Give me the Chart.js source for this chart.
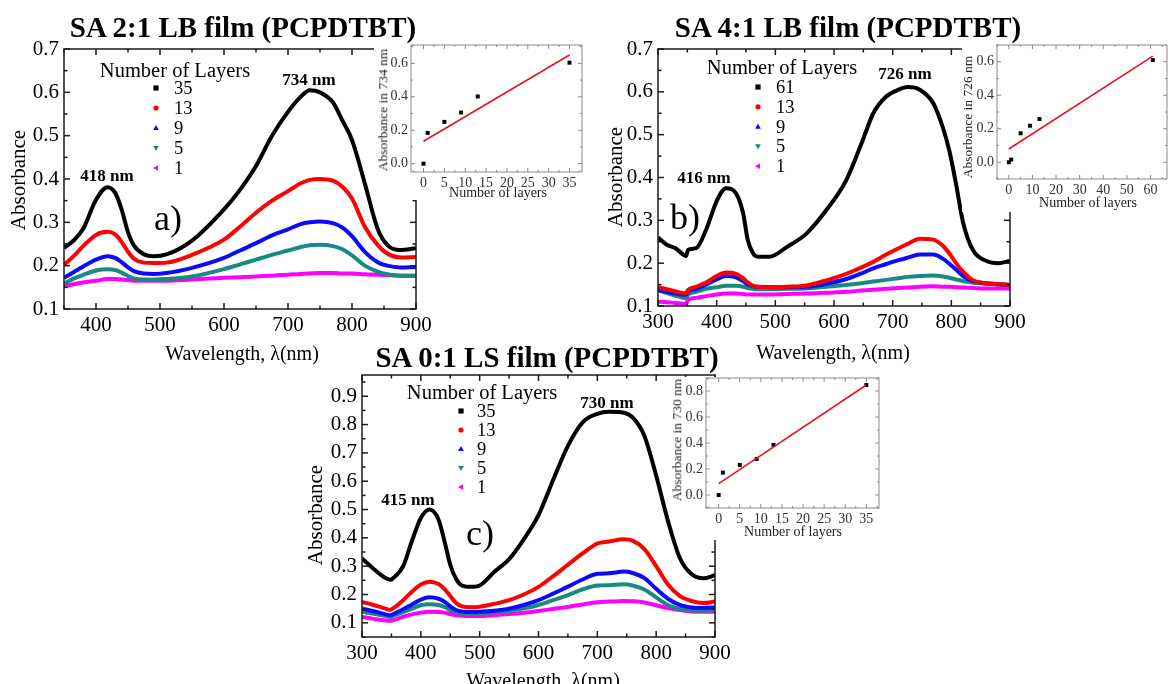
<!DOCTYPE html>
<html><head><meta charset="utf-8">
<script src="https://cdn.jsdelivr.net/npm/chart.js@4.4.0/dist/chart.umd.min.js"></script>
<style>
html,body{margin:0;padding:0;background:#fff;width:1171px;height:684px;overflow:hidden;}
#stage{position:relative;width:1171px;height:684px;overflow:hidden;}
canvas{position:absolute;left:0;top:0;}
.t{position:absolute;white-space:nowrap;font-family:"Liberation Serif","Times New Roman",serif;color:#000;transform:translate(-50%,-50%);line-height:1;z-index:10;}
.l{position:absolute;white-space:nowrap;font-family:"Liberation Serif","Times New Roman",serif;color:#000;transform:translate(0,-50%);line-height:1;z-index:10;}
</style></head><body><div id="stage"></div>
<script>
const W = 1171, H = 684;

// ---------- Panel a: SA 2:1 LB film ----------
const wlA = [350,365,380,400,418,430,440,450,460,475,490,510,550,600,625,650,675,700,720,734,750,770,785,800,820,840,855,875,900];
const a35 = [0.241,0.258,0.285,0.352,0.381,0.368,0.330,0.277,0.245,0.226,0.222,0.226,0.258,0.330,0.375,0.430,0.500,0.555,0.590,0.605,0.600,0.577,0.535,0.490,0.390,0.285,0.248,0.236,0.240];
const a13 = [0.202,0.222,0.245,0.271,0.278,0.272,0.255,0.232,0.215,0.207,0.206,0.207,0.225,0.260,0.290,0.322,0.350,0.372,0.390,0.398,0.400,0.396,0.382,0.355,0.290,0.248,0.228,0.219,0.220];
const a9  = [0.172,0.185,0.198,0.214,0.222,0.218,0.208,0.196,0.187,0.182,0.181,0.183,0.195,0.218,0.235,0.252,0.270,0.284,0.296,0.300,0.302,0.298,0.288,0.268,0.232,0.208,0.200,0.196,0.197];
const a5  = [0.158,0.170,0.179,0.189,0.192,0.190,0.184,0.176,0.170,0.168,0.168,0.169,0.175,0.192,0.203,0.214,0.225,0.235,0.243,0.247,0.248,0.245,0.238,0.224,0.200,0.186,0.180,0.177,0.177];
const a1  = [0.152,0.157,0.161,0.165,0.169,0.169,0.168,0.167,0.165,0.165,0.165,0.165,0.168,0.172,0.173,0.175,0.177,0.179,0.181,0.182,0.183,0.183,0.182,0.182,0.180,0.179,0.178,0.177,0.177];
const layerLabelsA = ['35','13','9','5','1'];

// ---------- Panel b: SA 4:1 LB film ----------
const wlB = [300,315,330,348,351,365,382,400,416,433,445,453,462,470,490,520,553,587,621,647,667,689,710,726,746,769,786,797,808,820,837,860,880,900];
const b61 = [0.260,0.243,0.235,0.217,0.231,0.235,0.278,0.345,0.375,0.363,0.317,0.254,0.223,0.215,0.215,0.238,0.269,0.324,0.394,0.480,0.550,0.589,0.605,0.611,0.605,0.574,0.515,0.460,0.385,0.295,0.230,0.205,0.200,0.205];
const b13 = [0.144,0.139,0.134,0.129,0.137,0.145,0.155,0.170,0.178,0.175,0.165,0.155,0.147,0.145,0.144,0.145,0.148,0.160,0.175,0.190,0.203,0.220,0.235,0.245,0.257,0.255,0.240,0.222,0.200,0.180,0.160,0.153,0.151,0.149];
const b9  = [0.137,0.133,0.129,0.126,0.133,0.140,0.150,0.162,0.170,0.167,0.158,0.150,0.146,0.145,0.144,0.144,0.145,0.152,0.163,0.176,0.188,0.198,0.207,0.213,0.220,0.220,0.210,0.198,0.185,0.170,0.158,0.153,0.151,0.149];
const b5  = [0.137,0.130,0.124,0.118,0.126,0.133,0.140,0.144,0.147,0.147,0.145,0.142,0.140,0.139,0.139,0.140,0.141,0.145,0.149,0.153,0.157,0.161,0.165,0.168,0.170,0.171,0.169,0.166,0.162,0.158,0.154,0.152,0.150,0.149];
const b1  = [0.110,0.109,0.107,0.105,0.114,0.119,0.123,0.127,0.129,0.129,0.128,0.127,0.127,0.127,0.127,0.128,0.129,0.131,0.133,0.136,0.138,0.140,0.142,0.143,0.145,0.146,0.145,0.145,0.144,0.143,0.142,0.141,0.141,0.141];
const layerLabelsB = ['61','13','9','5','1'];

// ---------- Panel c: SA 0:1 LS film ----------
const wlC = [300,320,340,348,352,370,385,400,415,430,440,450,460,470,485,500,525,550,575,600,625,650,675,700,720,745,760,780,800,820,840,860,880,900];
const c35 = [0.327,0.290,0.258,0.252,0.256,0.300,0.390,0.470,0.500,0.465,0.390,0.305,0.255,0.232,0.227,0.232,0.280,0.325,0.395,0.480,0.605,0.725,0.808,0.838,0.845,0.842,0.825,0.760,0.620,0.460,0.330,0.272,0.257,0.268];
const c13 = [0.174,0.163,0.150,0.146,0.150,0.180,0.210,0.235,0.245,0.237,0.220,0.195,0.170,0.158,0.155,0.157,0.167,0.180,0.200,0.227,0.265,0.305,0.345,0.380,0.387,0.395,0.390,0.360,0.300,0.235,0.195,0.177,0.170,0.175];
const c9  = [0.150,0.141,0.130,0.127,0.130,0.148,0.165,0.182,0.190,0.185,0.175,0.158,0.145,0.140,0.138,0.139,0.143,0.150,0.163,0.180,0.203,0.228,0.253,0.273,0.275,0.281,0.276,0.258,0.220,0.185,0.163,0.154,0.152,0.155];
const c5  = [0.139,0.132,0.124,0.121,0.124,0.138,0.150,0.162,0.166,0.163,0.156,0.145,0.137,0.134,0.133,0.134,0.137,0.142,0.151,0.163,0.180,0.198,0.218,0.232,0.233,0.236,0.232,0.218,0.190,0.163,0.150,0.144,0.143,0.145];
const c1  = [0.121,0.114,0.108,0.107,0.109,0.121,0.130,0.136,0.139,0.138,0.136,0.131,0.127,0.125,0.124,0.124,0.127,0.131,0.136,0.142,0.149,0.156,0.165,0.173,0.175,0.177,0.176,0.172,0.162,0.152,0.145,0.140,0.139,0.139];
const layerLabelsC = ['35','13','9','5','1'];

// ---------- Insets: absorbance at peak vs number of layers ----------
const layersA = [0,1,5,9,13,35];
const peakA   = [0.0,0.184,0.250,0.306,0.402,0.604];
const fitXA = [0,35], fitYA = [0.134,0.650];
const layersB = [0,1,5,9,13,61];
const peakB   = [0.0,0.016,0.173,0.218,0.258,0.610];
const fitXB = [0,61], fitYB = [0.079,0.634];
const layersC = [0,1,5,9,13,35];
const peakC   = [0.0,0.172,0.231,0.277,0.385,0.846];
const fitXC = [0,35], fitYC = [0.088,0.846];

// ---------- Tick values ----------
const mainXTicksA = [400,500,600,700,800,900];
const mainXTicksBC = [300,400,500,600,700,800,900];
const mainYTicksAB = [0.1,0.2,0.3,0.4,0.5,0.6,0.7];
const mainYTicksC = [0.1,0.2,0.3,0.4,0.5,0.6,0.7,0.8,0.9];
const insetXTicksAC = [0,5,10,15,20,25,30,35];
const insetXTicksB = [0,10,20,30,40,50,60];
const insetYTicksAB = [0.0,0.2,0.4,0.6];
const insetYTicksC = [0.0,0.2,0.4,0.6,0.8];

const seriesStyle = [
  {color:'#000000', shape:'square'},
  {color:'#ff0000', shape:'circle'},
  {color:'#0a0aff', shape:'up'},
  {color:'#178a82', shape:'down'},
  {color:'#ff00ff', shape:'left'}
];

const stage = document.getElementById('stage');
function mkCanvas(){ const c=document.createElement('canvas'); c.width=W; c.height=H; c.style.width=W+'px'; c.style.height=H+'px'; stage.appendChild(c); return c; }
function txt(s, x, y, size, opts={}){
  const d=document.createElement('div'); d.className=opts.left?'l':'t'; d.textContent=s;
  d.style.left=x+'px'; d.style.top=y+'px'; d.style.fontSize=size+'px';
  if(opts.bold) d.style.fontWeight='bold';
  if(opts.color) d.style.color=opts.color;
  if(opts.rot) d.style.transform='translate(-50%,-50%) rotate(-90deg)';
  stage.appendChild(d); return d;
}

function drawMark(ctx, shape, color, x, y, r){
  ctx.save(); ctx.fillStyle=color; ctx.beginPath();
  if(shape==='square'){ ctx.rect(x-r,y-r,2*r,2*r); }
  else if(shape==='circle'){ ctx.arc(x,y,r,0,Math.PI*2); }
  else if(shape==='up'){ ctx.moveTo(x,y-r*1.2); ctx.lineTo(x+r*1.1,y+r*0.8); ctx.lineTo(x-r*1.1,y+r*0.8); ctx.closePath(); }
  else if(shape==='down'){ ctx.moveTo(x,y+r*1.2); ctx.lineTo(x+r*1.1,y-r*0.8); ctx.lineTo(x-r*1.1,y-r*0.8); ctx.closePath(); }
  else if(shape==='left'){ ctx.moveTo(x-r*1.2,y); ctx.lineTo(x+r*0.8,y-r*1.1); ctx.lineTo(x+r*0.8,y+r*1.1); ctx.closePath(); }
  ctx.fill(); ctx.restore();
}

const boxPlugin = {id:'box', beforeDraw(chart,args,o){ if(!o || !o.rect) return; const c=chart.ctx; c.save(); c.fillStyle='#ffffff'; c.fillRect(o.rect[0],o.rect[1],o.rect[2],o.rect[3]); c.restore(); }};
const framePlugin = {id:'frame', afterDraw(chart,args,o){
  const {ctx, chartArea:a} = chart; const x=chart.scales.x, y=chart.scales.y;
  ctx.save(); ctx.strokeStyle=o.color; ctx.lineWidth=o.width;
  ctx.strokeRect(a.left,a.top,a.right-a.left,a.bottom-a.top);
  const seg=(x1,y1,x2,y2)=>{ctx.beginPath();ctx.moveTo(x1,y1);ctx.lineTo(x2,y2);ctx.stroke();};
  const n0x=Math.ceil(x.min/o.xMinor-1e-9), n1x=Math.floor(x.max/o.xMinor+1e-9);
  for(let i=n0x;i<=n1x;i++){ const v=i*o.xMinor; const p=x.getPixelForValue(v);
    const r=v/o.xMajor; const major=Math.abs(r-Math.round(r))<1e-6; const L=major?o.major:o.minor;
    seg(p,a.bottom,p,a.bottom-L); seg(p,a.top,p,a.top+L); }
  const n0y=Math.ceil(y.min/o.yMinor-1e-9), n1y=Math.floor(y.max/o.yMinor+1e-9);
  for(let i=n0y;i<=n1y;i++){ const v=i*o.yMinor; const p=y.getPixelForValue(v);
    const r=v/o.yMajor; const major=Math.abs(r-Math.round(r))<1e-6; const L=major?o.major:o.minor;
    seg(a.left,p,a.left+L,p); seg(a.right,p,a.right-L,p); }
  ctx.restore();
}};
const markPlugin = {id:'marks', afterDraw(chart,args,o){ if(!o || !o.x) return;
  chart.data.datasets.forEach((ds,i)=>drawMark(chart.ctx, ds.markShape, ds.borderColor, o.x, o.y+i*o.dy, o.r)); }};

function fixedTicks(arr){ return s=>{ s.ticks = arr.map(v=>({value:v})); }; }

function mainChart(p){
  const YW=60, XH=40;
  const datasets = p.series.map((s,i)=>({
    label:p.labels[i], data:p.wl.map((w,j)=>({x:w,y:s[j]})),
    borderColor:seriesStyle[i].color, backgroundColor:seriesStyle[i].color, borderWidth:4,
    pointRadius:0, cubicInterpolationMode:'monotone', fill:false, markShape:seriesStyle[i].shape
  }));
  const font={family:'"Liberation Serif","Times New Roman",serif', size:21};
  new Chart(mkCanvas(), {type:'line', data:{datasets},
    options:{responsive:false, animation:false, devicePixelRatio:1,
      layout:{padding:{left:p.area.l-YW, right:W-p.area.r, top:p.area.t, bottom:H-p.area.b-XH}},
      plugins:{legend:{display:false}, tooltip:{enabled:false},
        frame:{color:'#1a1a1a', width:1.5, major:6, minor:3.5, xMajor:100, xMinor:50, yMajor:0.1, yMinor:0.05},
        marks:p.marks},
      scales:{
        x:{type:'linear', min:p.xr[0], max:p.xr[1], afterBuildTicks:fixedTicks(p.xt),
           ticks:{font, color:'#000', padding:4, maxRotation:0, autoSkip:false, callback:v=>String(v)},
           grid:{display:false, drawTicks:false}, border:{display:false}, afterFit:s=>{s.height=XH;}},
        y:{type:'linear', min:p.yr[0], max:p.yr[1], afterBuildTicks:fixedTicks(p.yt),
           ticks:{font, color:'#000', padding:5, autoSkip:false, callback:v=>v.toFixed(1)},
           grid:{display:false, drawTicks:false}, border:{display:false}, afterFit:s=>{s.width=YW;}}
      }},
    plugins:[framePlugin, markPlugin]});
  txt('Number of Layers', p.legend.hx, p.legend.hy, 20.5);
  p.labels.forEach((lb,i)=>txt(lb, p.legend.lx, p.marks.y+i*p.marks.dy, 18.5, {left:true}));
}

function insetChart(p){
  const YW=30, XH=22;
  const font={family:'"Liberation Serif","Times New Roman",serif', size:14};
  new Chart(mkCanvas(), {type:'scatter',
    data:{datasets:[
      {type:'line', data:p.fitX.map((v,i)=>({x:v,y:p.fitY[i]})), borderColor:'#e8141a', borderWidth:1.6, pointRadius:0, fill:false},
      {type:'scatter', data:p.layers.map((v,i)=>({x:v,y:p.peak[i]})), backgroundColor:'#000', borderColor:'#000', pointStyle:'rect', pointRadius:2.8, borderWidth:0}
    ]},
    options:{responsive:false, animation:false, devicePixelRatio:1,
      layout:{padding:{left:p.area.l-YW, right:W-p.area.r, top:p.area.t, bottom:H-p.area.b-XH}},
      plugins:{legend:{display:false}, tooltip:{enabled:false}, box:{rect:p.box},
        frame:{color:'#8a8a8a', width:1, major:4, minor:2, xMajor:p.xMajor, xMinor:p.xMajor/2, yMajor:0.2, yMinor:0.1}},
      scales:{
        x:{type:'linear', min:p.xr[0], max:p.xr[1], afterBuildTicks:fixedTicks(p.xt),
           ticks:{font, color:'#333', padding:3, maxRotation:0, autoSkip:false, callback:v=>String(v)},
           grid:{display:false, drawTicks:false}, border:{display:false}, afterFit:s=>{s.height=XH;}},
        y:{type:'linear', min:p.yr[0], max:p.yr[1], afterBuildTicks:fixedTicks(p.yt),
           ticks:{font, color:'#333', padding:3, autoSkip:false, callback:v=>v.toFixed(1)},
           grid:{display:false, drawTicks:false}, border:{display:false}, afterFit:s=>{s.width=YW;}}
      }},
    plugins:[boxPlugin, framePlugin]});
  txt(p.ylab, p.ylPos[0], p.ylPos[1], 13.5, {rot:true, color:'#222'});
  txt('Number of layers', p.xlPos[0], p.xlPos[1], 14, {color:'#222'});
}

// ----- main panels -----
mainChart({wl:wlA, series:[a35,a13,a9,a5,a1], labels:layerLabelsA, xr:[350,900], yr:[0.1,0.7], xt:mainXTicksA, yt:mainYTicksAB,
  area:{l:64,r:416,t:49,b:309}, marks:{x:156,y:88,dy:20,r:2.6}, legend:{hx:175,hy:70,lx:174}});
mainChart({wl:wlB, series:[b61,b13,b9,b5,b1], labels:layerLabelsB, xr:[300,900], yr:[0.1,0.7], xt:mainXTicksBC, yt:mainYTicksAB,
  area:{l:658,r:1010,t:49,b:306}, marks:{x:758,y:87,dy:19.8,r:2.6}, legend:{hx:782,hy:67,lx:776}});
mainChart({wl:wlC, series:[c35,c13,c9,c5,c1], labels:layerLabelsC, xr:[300,900], yr:[0.05,0.975], xt:mainXTicksBC, yt:mainYTicksC,
  area:{l:362,r:715,t:375,b:637}, marks:{x:461,y:411,dy:19,r:2.6}, legend:{hx:482,hy:392,lx:477}});

// ----- insets -----
insetChart({layers:layersA, peak:peakA, fitX:fitXA, fitY:fitYA, xr:[-3,38], yr:[-0.05,0.71], xt:insetXTicksAC, yt:insetYTicksAB, xMajor:5,
  area:{l:411,r:582,t:45,b:172}, box:[374,40,216,160], ylab:'Absorbance in 734 nm', ylPos:[383,110], xlPos:[498,193]});
insetChart({layers:layersB, peak:peakB, fitX:fitXB, fitY:fitYB, xr:[-5,67], yr:[-0.1,0.7], xt:insetXTicksB, yt:insetYTicksAB, xMajor:10,
  area:{l:997,r:1169,t:45,b:179}, box:[962,40,209,172], ylab:'Absorbance in 726 nm', ylPos:[968,117], xlPos:[1088,203]});
insetChart({layers:layersC, peak:peakC, fitX:fitXC, fitY:fitYC, xr:[-3,38], yr:[-0.1,0.9], xt:insetXTicksAC, yt:insetYTicksC, xMajor:5,
  area:{l:706,r:879,t:378,b:508}, box:[685,377,200,163], ylab:'Absorbance in 730 nm', ylPos:[677,440], xlPos:[793,532]});

// ----- titles and annotations -----
txt('SA 2:1 LB film (PCPDTBT)', 243, 27, 29, {bold:true});
txt('SA 4:1 LB film (PCPDTBT)', 848, 27, 29, {bold:true});
txt('SA 0:1 LS film (PCPDTBT)', 547, 357, 29, {bold:true});
txt('Absorbance', 18, 180, 21, {rot:true});
txt('Absorbance', 615, 177, 21, {rot:true});
txt('Absorbance', 315, 515, 21, {rot:true});
txt('Wavelength, λ(nm)', 242, 353, 20);
txt('Wavelength, λ(nm)', 833, 352, 20);
txt('Wavelength, λ(nm)', 543, 680, 20);
txt('418 nm', 107, 175, 17, {bold:true});
txt('734 nm', 309, 79, 17, {bold:true});
txt('416 nm', 704, 177, 17, {bold:true});
txt('726 nm', 905, 73, 17, {bold:true});
txt('415 nm', 408, 499, 17, {bold:true});
txt('730 nm', 607, 402, 17, {bold:true});
txt('a)', 168, 218, 36);
txt('b)', 685, 217, 36);
txt('c)', 480, 533, 36);
</script></body></html>
